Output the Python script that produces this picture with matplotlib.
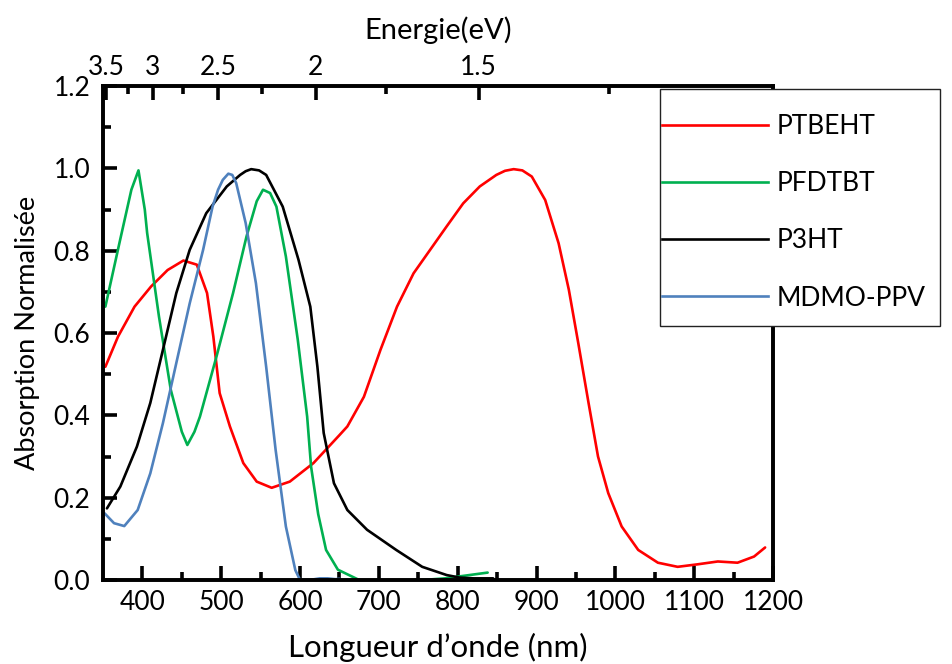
import numpy as np
import matplotlib
matplotlib.use("Agg")
import matplotlib.pyplot as plt
from matplotlib.patches import Rectangle
from matplotlib.lines import Line2D
from matplotlib.ticker import FixedLocator

plt.rcParams['font.family'] = ['Lato', 'DejaVu Sans']
plt.rcParams['axes.linewidth'] = 2.6

# ---------------- data ----------------
ptbeht_x = [353, 369, 390, 411, 432, 452, 469, 482, 490, 498, 511, 528, 545, 564, 587,
            617, 650, 660, 681, 702, 723, 744, 765, 786, 807, 828, 840, 849, 860, 871, 882,
            894, 911, 928, 941, 953, 966, 978, 991, 1008, 1029, 1054, 1079, 1104, 1130,
            1155, 1176, 1190]
ptbeht_y = [0.518, 0.591, 0.664, 0.713, 0.753, 0.776, 0.766, 0.697, 0.591, 0.454, 0.373,
            0.284, 0.239, 0.224, 0.239, 0.284, 0.352, 0.373, 0.445, 0.559, 0.664, 0.745,
            0.802, 0.859, 0.915, 0.956, 0.972, 0.984, 0.994, 0.998, 0.995, 0.980, 0.923,
            0.818, 0.705, 0.575, 0.430, 0.300, 0.211, 0.130, 0.073, 0.042, 0.032, 0.038,
            0.045, 0.042, 0.057, 0.079]

pfdtbt_x = [353, 371, 386, 395, 403, 406, 421, 436, 450, 457, 466, 473, 494, 515, 532, 545,
            553, 562, 570, 582, 597, 609, 614, 623, 633, 648, 675, 700, 741, 784, 838]
pfdtbt_y = [0.664, 0.820, 0.948, 0.995, 0.900, 0.843, 0.640, 0.462, 0.360, 0.328, 0.360,
            0.397, 0.543, 0.697, 0.834, 0.920, 0.948, 0.940, 0.907, 0.786, 0.585, 0.397,
            0.275, 0.160, 0.073, 0.025, 0.000, -0.004, -0.002, 0.004, 0.018]

p3ht_x = [355, 372, 393, 410, 426, 443, 460, 481, 507, 524, 531, 538, 548, 557, 578, 598,
          613, 622, 630, 643, 660, 685, 722, 755, 786, 802, 820, 845]
p3ht_y = [0.174, 0.227, 0.324, 0.430, 0.559, 0.697, 0.802, 0.891, 0.956, 0.984, 0.993,
          0.998, 0.995, 0.984, 0.907, 0.778, 0.664, 0.518, 0.357, 0.235, 0.170, 0.122,
          0.073, 0.032, 0.012, 0.006, 0.004, 0.004]

mdmo_x = [352, 364, 377, 394, 410, 426, 443, 460, 477, 489, 496, 502, 509, 514, 519, 531,
          544, 557, 569, 582, 594, 600, 612, 625, 635, 645, 650]
mdmo_y = [0.162, 0.138, 0.131, 0.170, 0.259, 0.381, 0.527, 0.672, 0.802, 0.907, 0.948,
          0.972, 0.987, 0.984, 0.964, 0.867, 0.721, 0.518, 0.316, 0.130, 0.024, 0.000,
          0.000, 0.004, 0.004, 0.002, 0.003]

series_names = ['PTBEHT', 'PFDTBT', 'P3HT', 'MDMO-PPV']
series_colors = ['#FF0000', '#00B050', '#000000', '#4F81BD']

x_major = [400, 500, 600, 700, 800, 900, 1000, 1100, 1200]
x_minor = [450, 550, 650, 750, 850, 950, 1050, 1150]
y_major = [0.0, 0.2, 0.4, 0.6, 0.8, 1.0, 1.2]
y_minor = [0.1, 0.3, 0.5, 0.7, 0.9, 1.1]
e_major = [3.5, 3.0, 2.5, 2.0, 1.5]
e_minor = [3.25, 2.75, 2.25, 1.75, 1.25]
e_labels = ['3.5', '3', '2.5', '2', '1.5']
hc = 1240.0  # eV*nm

# ---------------- figure ----------------
W, H = 952, 664
L, R, B, T = 103, 773, 580, 86
fig = plt.figure(figsize=(W / 100, H / 100), dpi=100)
ax = fig.add_axes([L / W, 1 - B / H, (R - L) / W, (B - T) / H])

xs = [ptbeht_x, pfdtbt_x, p3ht_x, mdmo_x]
ys = [ptbeht_y, pfdtbt_y, p3ht_y, mdmo_y]
for x, y, c, n in zip(xs, ys, series_colors, series_names):
    ax.plot(x, y, color=c, lw=1.9, label=n, solid_joinstyle='round',
            solid_capstyle='round', zorder=2)

ax.set_xlim(350, 1200)
ax.set_ylim(0, 1.2)
ax.xaxis.set_major_locator(FixedLocator(x_major))
ax.xaxis.set_minor_locator(FixedLocator(x_minor))
ax.yaxis.set_major_locator(FixedLocator(y_major))
ax.yaxis.set_minor_locator(FixedLocator(y_minor))
ax.set_yticklabels([f'{v:.1f}' for v in y_major])

tfs = 19
ax.tick_params(which='both', labelsize=tfs, top=False, right=False,
               direction='in', width=2.6, color='black')
ax.tick_params(which='major', length=10)
ax.tick_params(which='minor', length=5.5)
ax.tick_params(axis='x', which='major', pad=7)
ax.tick_params(axis='y', which='major', pad=9)

ax.set_xlabel('Longueur d\u2019onde (nm)', fontsize=22.5, labelpad=13)
ax.set_ylabel('Absorption Normalisée', fontsize=19.5, labelpad=10)

# top energy axis
tw = ax.twiny()
tw.set_xlim(ax.get_xlim())
tw.xaxis.set_major_locator(FixedLocator([hc / e for e in e_major]))
tw.xaxis.set_minor_locator(FixedLocator([hc / e for e in e_minor]))
tw.set_xticklabels(e_labels)
tw.xaxis.set_ticks_position('top')
tw.tick_params(which='both', labelsize=tfs, pad=4, direction='in', width=2.6,
               color='black')
tw.tick_params(which='major', length=10)
tw.tick_params(which='minor', length=5.5)
tw.set_xlabel('Energie(eV)', fontsize=21, labelpad=12)

# legend box
rect = Rectangle((660 / W, 1 - 326 / H), (940 - 660) / W, (326 - 89) / H,
                 transform=fig.transFigure, facecolor='white', edgecolor='#222222',
                 lw=1.0, zorder=5)
fig.patches.append(rect)
handles = [Line2D([], [], color=c, lw=1.9) for c in series_colors]
leg = fig.legend(handles, series_names, loc='upper left',
                 bbox_to_anchor=(662 / W, 1 - 114 / H), frameon=False,
                 fontsize=19, borderpad=0, borderaxespad=0,
                 handlelength=4.0, handletextpad=0.35, labelspacing=1.22)
leg.set_zorder(6)

fig.savefig('out.png', dpi=100)
